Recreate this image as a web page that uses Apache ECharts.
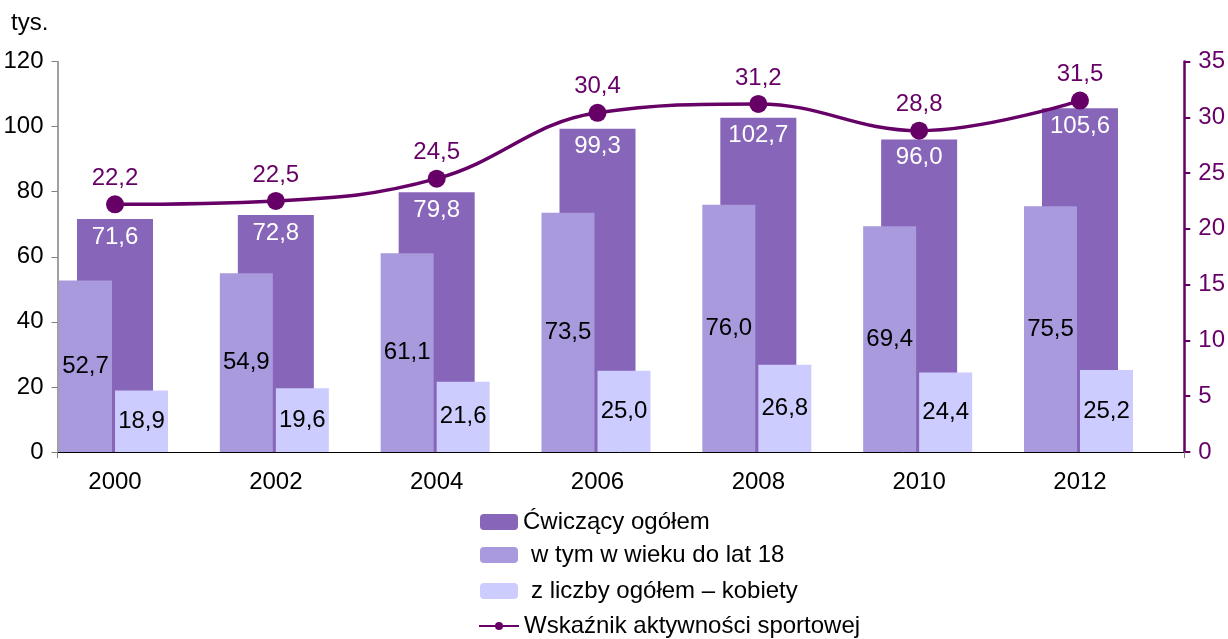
<!DOCTYPE html>
<html>
<head>
<meta charset="utf-8">
<script src="https://cdn.jsdelivr.net/npm/echarts@6/dist/echarts.min.js"></script>
<style>
html,body{margin:0;padding:0;background:#fff;}
#chart{width:1228px;height:639px;}
</style>
</head>
<body>
<div id="chart"></div>
<script>
const years = ['2000','2002','2004','2006','2008','2010','2012'];
const totalExercising = [71.6, 72.8, 79.8, 99.3, 102.7, 96.0, 105.6];
const under18 = [52.7, 54.9, 61.1, 73.5, 76.0, 69.4, 75.5];
const women = [18.9, 19.6, 21.6, 25.0, 26.8, 24.4, 25.2];
const activityIndex = [22.2, 22.5, 24.5, 30.4, 31.2, 28.8, 31.5];
const leftTicks = {min: 0, max: 120, interval: 20};
const rightTicks = {min: 0, max: 35, interval: 5};
const seriesNames = ['Ćwiczący ogółem', 'w tym w wieku do lat 18', 'z liczby ogółem – kobiety', 'Wskaźnik aktywności sportowej'];

const FONT = '"Liberation Sans", Arial, sans-serif';
const FS = 24;
const fmt = p => Number(p.value).toFixed(1).replace('.', ',');
const TOP = 61.5, BOTTOM = 187;

const chart = echarts.init(document.getElementById('chart'));
const hiddenCat = gi => ({type:'category', gridIndex:gi, data:years, show:false, boundaryGap:true});
const hiddenVal = (gi, t) => ({type:'value', gridIndex:gi, min:t.min, max:t.max, interval:t.interval, show:false, splitLine:{show:false}});
const legendText = {fontSize:FS, color:'#000', fontFamily:FONT, lineHeight:24};
const mkLegend = (name, top, opts) => Object.assign({
  orient:'vertical', left:480, top:top, padding:0, itemWidth:38, itemHeight:16,
  textStyle:legendText, data:[name]
}, opts || {});

chart.setOption({
  animation: false,
  textStyle: {fontFamily: FONT},
  title: {text:'tys.', left: 11, top: 11, padding:0, textStyle:{fontFamily:FONT, fontSize:FS, fontWeight:'normal', color:'#000'}},
  grid: [
    {left:57.5, right:43, top:TOP, bottom:BOTTOM},
    {left:34.6, right:67.6, top:TOP, bottom:BOTTOM},
    {left:5.1, right:97.1, top:TOP, bottom:BOTTOM},
    {left:61.1, right:41.1, top:TOP, bottom:BOTTOM}
  ],
  xAxis: [
    {type:'value', gridIndex:0, min:0, max:1, interval:1,
     axisLine:{show:true, lineStyle:{color:'#000', width:1}},
     axisTick:{show:true, length:6, lineStyle:{color:'#808080'}},
     axisLabel:{show:false}, splitLine:{show:false}},
    {type:'category', gridIndex:1, data:years, boundaryGap:true,
     axisLine:{show:false}, axisTick:{show:false},
     axisLabel:{show:true, margin:18, fontSize:FS, color:'#000', fontFamily:FONT}},
    hiddenCat(2),
    hiddenCat(3)
  ],
  yAxis: [
    {type:'value', gridIndex:0, position:'left', min:leftTicks.min, max:leftTicks.max, interval:leftTicks.interval,
     axisLine:{show:true, lineStyle:{color:'#808080', width:1.5}},
     axisTick:{show:true, length:6, lineStyle:{color:'#808080'}},
     axisLabel:{fontSize:FS, color:'#000', margin:14, fontFamily:FONT},
     splitLine:{show:false}},
    {type:'value', gridIndex:0, position:'right', min:rightTicks.min, max:rightTicks.max, interval:rightTicks.interval,
     axisLine:{show:true, lineStyle:{color:'#660066', width:2.5}},
     axisTick:{show:true, length:6, lineStyle:{color:'#660066', width:2}},
     axisLabel:{fontSize:FS, color:'#660066', margin:14, fontFamily:FONT},
     splitLine:{show:false}},
    hiddenVal(1, leftTicks),
    hiddenVal(1, rightTicks),
    hiddenVal(2, leftTicks),
    hiddenVal(3, leftTicks)
  ],
  legend: [
    mkLegend(seriesNames[0], 510),
    mkLegend(seriesNames[1], 543, {textStyle:Object.assign({}, legendText, {padding:[0,0,0,8]})}),
    mkLegend(seriesNames[2], 579, {textStyle:Object.assign({}, legendText, {padding:[0,0,0,8]})}),
    mkLegend(seriesNames[3], 614, {left:478, itemWidth:40, itemHeight:10})
  ],
  series: [
    {name:seriesNames[0], type:'bar', xAxisIndex:1, yAxisIndex:2, data:totalExercising,
     barWidth:76, z:2, itemStyle:{color:'#8765B8'},
     label:{show:true, position:'insideTop', distance:6, color:'#fff', fontSize:FS, fontFamily:FONT, formatter:fmt}},
    {name:seriesNames[1], type:'bar', xAxisIndex:2, yAxisIndex:4, data:under18,
     barWidth:53, z:3, itemStyle:{color:'#A999DD'},
     label:{show:true, position:'inside', color:'#000', fontSize:FS, fontFamily:FONT, formatter:fmt}},
    {name:seriesNames[2], type:'bar', xAxisIndex:3, yAxisIndex:5, data:women,
     barWidth:53, z:3, itemStyle:{color:'#CCCCFF'},
     label:{show:true, position:'inside', color:'#000', fontSize:FS, fontFamily:FONT, formatter:fmt}},
    {name:seriesNames[3], type:'line', xAxisIndex:1, yAxisIndex:3, data:activityIndex,
     smooth:0.4, z:5, symbol:'circle', symbolSize:18,
     lineStyle:{color:'#660066', width:3.5}, itemStyle:{color:'#660066'},
     label:{show:true, position:'top', distance:5, color:'#660066', fontSize:FS, fontFamily:FONT, formatter:fmt}}
  ]
});
</script>
</body>
</html>
